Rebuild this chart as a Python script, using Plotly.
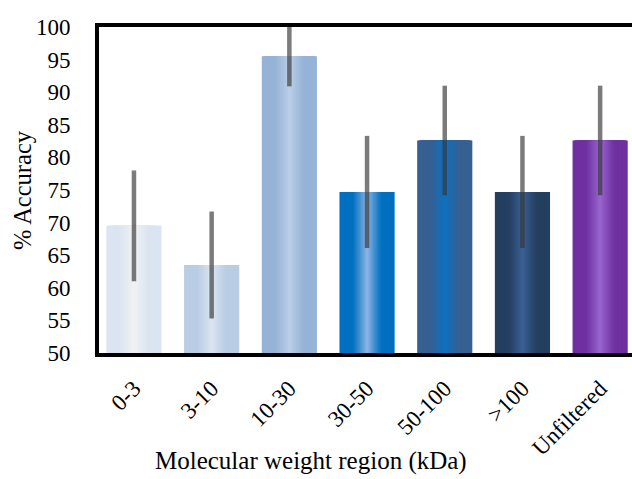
import plotly.graph_objects as go
import numpy as np

categories = ["0-3", "3-10", "10-30", "30-50", "50-100", ">100", "Unfiltered"]
accuracy = [69.5, 63.5, 95.5, 74.7, 82.6, 74.7, 82.6]
error = [8.5, 8.2, 4.6, 8.6, 8.4, 8.6, 8.4]
edge_colors = ["#dbe5f1", "#b9cde5", "#95b3d7", "#0070c0", "#376092", "#243f60", "#7030a0"]
center_colors = ["#f2f2f4", "#dce6f2", "#bdd0e7", "#95b9e6", "#0a72c4", "#3b6296", "#9b68d2"]
y_ticks = [50, 55, 60, 65, 70, 75, 80, 85, 90, 95, 100]

BAR_W = 0.71
FONT = "Liberation Serif"


def hex2rgb(h):
    h = h.lstrip("#")
    return [int(h[i:i + 2], 16) for i in (0, 2, 4)]


def mix(a, b, m):
    ra, rb = hex2rgb(a), hex2rgb(b)
    c = [round(x + (y - x) * m) for x, y in zip(ra, rb)]
    return "rgb(%d,%d,%d)" % tuple(c)


fig = go.Figure()
ts = np.arange(1.0, 0.0, -0.04)
for i, t in enumerate(ts):
    m = max(0.0, 1 - t / 0.55) ** 1.1
    cols = [mix(e, c, m) for e, c in zip(edge_colors, center_colors)]
    last = i == len(ts) - 1
    kw = {}
    if last:
        kw["error_y"] = dict(type="data", array=error, color="rgba(55,55,55,0.66)",
                             thickness=4.5, width=0, visible=True)
    fig.add_trace(go.Bar(x=categories, y=accuracy, width=BAR_W * t,
                         marker=dict(color=cols, line=dict(width=0)),
                         showlegend=False, hoverinfo="skip", **kw))

fig.update_layout(
    width=632, height=479,
    margin=dict(l=99, r=0, t=27, b=126),
    plot_bgcolor="white", paper_bgcolor="white",
    barmode="overlay",
    font=dict(family=FONT, color="black"),
    xaxis=dict(range=[-0.45, 6.41], showline=True, linewidth=4, linecolor="black",
               mirror=True, ticks="", tickangle=-45, showgrid=False,
               tickfont=dict(family=FONT, size=23, color="black"),
               ticklabelstandoff=9),
    yaxis=dict(range=[50, 100], tickvals=y_ticks, showline=True, linewidth=4,
               linecolor="black", mirror=False, ticks="", showgrid=False, zeroline=False,
               tickfont=dict(family=FONT, size=23, color="black"),
               ticklabelstandoff=20),
    annotations=[
        dict(text="Molecular weight region (kDa)", xref="paper", yref="paper",
             x=(311 - 99) / 533, y=(353 - 461) / 326, xanchor="center", yanchor="middle",
             showarrow=False, font=dict(family=FONT, size=25, color="black")),
        dict(text="% Accuracy", xref="paper", yref="paper",
             x=(22 - 99) / 533, y=0.5, xanchor="center", yanchor="middle", textangle=-90,
             showarrow=False, font=dict(family=FONT, size=24.5, color="black")),
    ],
)

fig.write_html("out.html")
